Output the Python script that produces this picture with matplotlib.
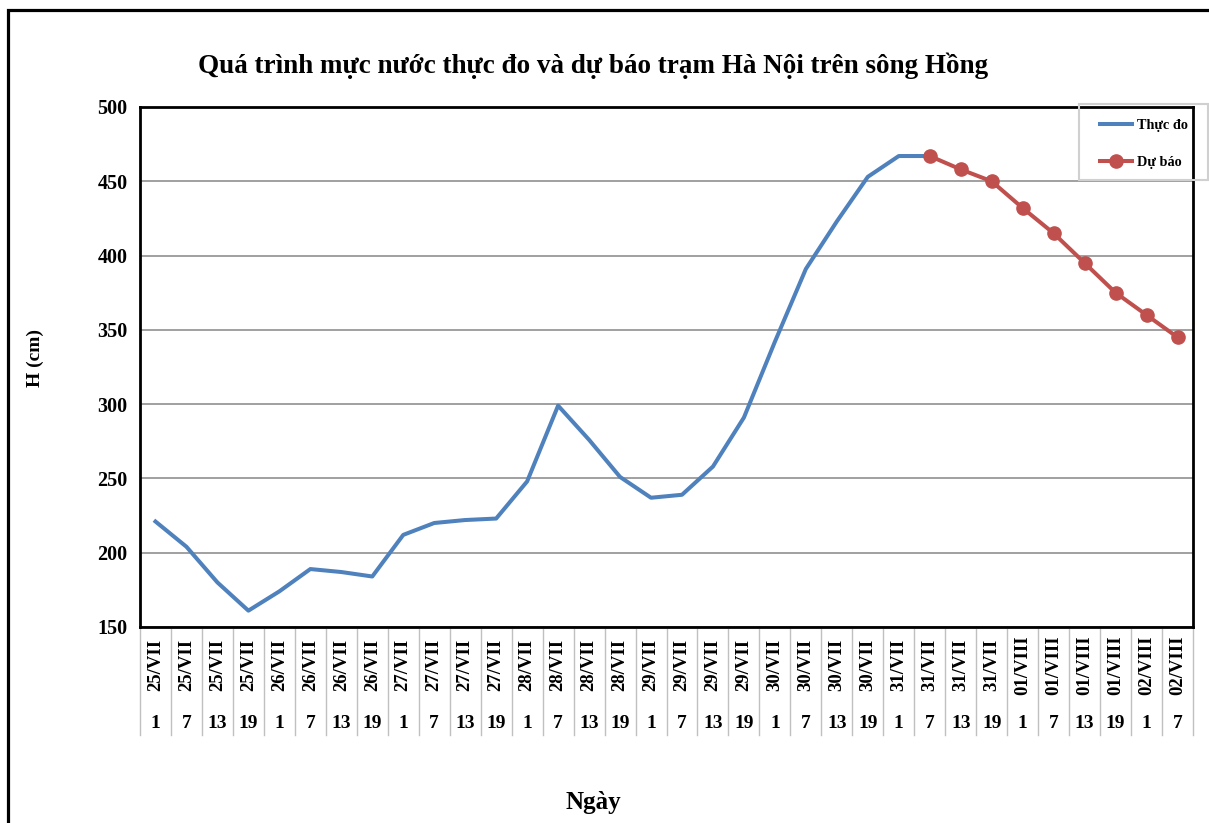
import numpy as np
import matplotlib.pyplot as plt
from matplotlib.patches import Rectangle

plt.rcParams['font.family'] = ['Liberation Serif', 'DejaVu Serif']
plt.rcParams['font.weight'] = 'bold'

# categories: date / hour
days = ['25/VII'] * 4 + ['26/VII'] * 4 + ['27/VII'] * 4 + ['28/VII'] * 4 + \
       ['29/VII'] * 4 + ['30/VII'] * 4 + ['31/VII'] * 4 + ['01/VIII'] * 4 + ['02/VIII'] * 2
hours = ['1', '7', '13', '19'] * 8 + ['1', '7']

# observed water level (cm), 25/VII 1h .. 31/VII 7h
observed = [221, 204, 180, 161, 174, 189, 187, 184,
            212, 220, 222, 223, 248, 299, 276, 251,
            237, 239, 258, 291, 342, 391, 423, 453,
            467, 467]
# forecast, 31/VII 7h .. 02/VIII 7h
forecast = [467, 458, 450, 432, 415, 395, 375, 360, 345]

n = len(days)
x = np.arange(n)
x_obs = x[:len(observed)]
x_fc = x[len(observed) - 1:]

fig = plt.figure(figsize=(12.09, 8.23), dpi=100)
ax = fig.add_axes([140 / 1209, 1 - 627 / 823, (1193 - 140) / 1209, 520 / 823])

ax.plot(x_obs, observed, color='#4F81BD', lw=2.9, label='Thực đo', zorder=3)
ax.plot(x_fc, forecast, color='#C0504D', lw=2.9, marker='o', ms=9.5,
        label='Dự báo', zorder=4)

ax.set_xlim(-0.5, n - 0.5)
ax.set_ylim(150, 500)
ax.set_yticks(np.arange(150, 501, 50))
ax.tick_params(axis='y', length=0, labelsize=14.5, pad=9)
for lab in ax.get_yticklabels():
    lab.set_fontweight('bold')
ax.set_xticks([])
ax.grid(axis='y', color='#868686', lw=1.1)
ax.set_axisbelow(True)
for s in ax.spines.values():
    s.set_linewidth(2)
    s.set_color('black')

# category table under the axis
trans = ax.get_xaxis_transform()
for i in range(n):
    ax.text(x[i], -0.073, days[i], transform=trans, rotation=90,
            ha='center', va='center', fontsize=13.5, fontweight='bold')
    ax.text(x[i], -0.186, hours[i], transform=trans,
            ha='center', va='center', fontsize=14, fontweight='bold')
for b in np.arange(-0.5, n, 1.0):
    ax.plot([b, b], [-0.004, -0.208], transform=trans, color='#c0c0c0',
            lw=1, clip_on=False)

fig.text(593 / 1209, 1 - 66 / 823,
         'Quá trình mực nước thực đo và dự báo trạm Hà Nội trên sông Hồng',
         ha='center', va='center', fontsize=19.5, fontweight='bold')
fig.text(35 / 1209, 1 - 358 / 823, 'H (cm)', rotation=90,
         ha='center', va='center', fontsize=14, fontweight='bold')
fig.text(593 / 1209, 1 - 803 / 823, 'Ngày',
         ha='center', va='center', fontsize=18, fontweight='bold')

# legend (frame drawn separately, wider than the entries; plot border shows through)
fig.patches.append(Rectangle((1079 / 1209, 1 - 180 / 823), 129 / 1209, 76 / 823,
                             transform=fig.transFigure, fill=False,
                             edgecolor='#d0d0d0', lw=1.5, zorder=5))
leg = fig.legend(loc='upper left', bbox_to_anchor=(1088 / 1209, 1 - 106.5 / 823),
                 fontsize=10.3, frameon=False, handlelength=2.25,
                 labelspacing=1.7, borderpad=0.85, handletextpad=0.35,
                 borderaxespad=0)
leg.set_zorder(6)
for t in leg.get_texts():
    t.set_fontweight('bold')

# outer chart border
fig.patches.append(Rectangle((8 / 1209, -0.1), 1.2, 1 - 10 / 823 + 0.1,
                             transform=fig.transFigure, fill=False,
                             edgecolor='black', lw=2.3, zorder=0))

fig.savefig('out.png', dpi=100)
